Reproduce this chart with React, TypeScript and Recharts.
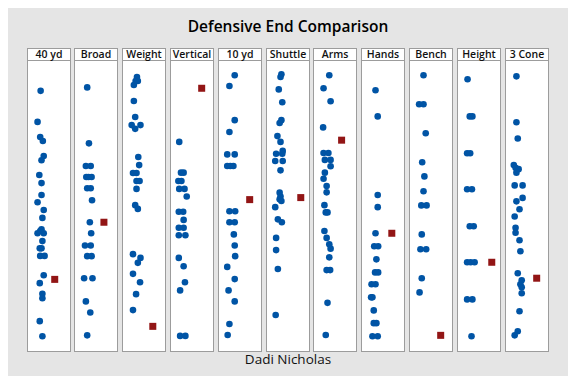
import { ScatterChart, Scatter, XAxis, YAxis } from "recharts";

// each point: [horizontal jitter (% of panel width), relative score 0-100]
const drills = ["40 yd", "Broad", "Weight", "Vertical", "10 yd", "Shuttle", "Arms", "Hands", "Bench", "Height", "3 Cone"];

const fortyYd = [
  [31, 89.7], [24, 79.0], [30, 73.8], [36, 72.4], [38, 67.2], [33, 65.8], [28, 60.7], [33, 57.9], [33, 53.8],
  [24, 51.3], [38, 48.6], [35, 45.9], [33, 42.0], [24, 40.6], [38, 40.6], [30, 41.4], [35, 37.9], [33, 35.4],
  [29, 35.4], [30, 32.8], [40, 32.8], [38, 26.1], [29, 23.4], [35, 19.7], [35, 18.2], [29, 10.3], [35, 5.1],
];
const broad = [
  [30, 90.9], [34, 71.6], [27, 63.8], [38, 63.8], [28, 60.0], [40, 60.0], [33, 60.0], [30, 56.1], [38, 56.1],
  [41, 52.0], [36, 44.4], [39, 40.6], [25, 36.4], [38, 36.4], [30, 32.7], [40, 32.7], [23, 25.1], [42, 25.1],
  [27, 17.1], [37, 13.3], [30, 5.4],
];
const weight = [
  [34, 94.5], [31, 93.1], [36, 93.1], [27, 91.7], [27, 86.2], [30, 80.7], [22, 77.9], [42, 77.9], [30, 76.6],
  [37, 66.9], [39, 64.1], [25, 61.4], [33, 61.4], [33, 58.6], [40, 58.6], [33, 55.9], [30, 50.3], [36, 49.0],
  [25, 33.4], [42, 32.1], [36, 30.4], [25, 26.6], [41, 23.7], [32, 19.6], [25, 14.1],
];
const vertical = [
  [21, 72.1], [25, 61.5], [31, 61.5], [19, 58.6], [26, 58.6], [21, 55.9], [33, 55.9], [38, 53.3], [20, 48.0],
  [30, 48.0], [31, 45.2], [20, 42.5], [31, 42.5], [20, 39.9], [35, 39.9], [20, 32.1], [31, 29.2], [34, 23.7],
  [23, 20.9], [23, 5.2], [35, 5.2],
];
const tenYd = [
  [38, 95.1], [26, 91.4], [38, 79.6], [26, 75.5], [21, 67.8], [38, 67.8], [21, 63.8], [28, 63.8], [35, 63.8],
  [26, 48.2], [39, 48.2], [26, 44.4], [38, 44.4], [36, 40.2], [38, 36.4], [39, 32.7], [21, 29.0], [38, 24.8],
  [24, 20.9], [38, 17.1], [26, 9.3], [22, 5.5],
];
const shuttle = [
  [35, 95.4], [33, 94.5], [29, 90.2], [37, 85.8], [35, 79.6], [31, 78.6], [26, 74.1], [33, 72.1], [38, 69.0],
  [23, 68.0], [37, 68.0], [21, 65.5], [38, 65.5], [33, 62.3], [31, 54.6], [33, 53.3], [31, 52.3], [35, 51.7],
  [21, 49.6], [27, 45.4], [36, 44.4], [23, 39.0], [23, 34.8], [27, 28.3], [22, 12.4],
];
const arms = [
  [37, 95.1], [24, 90.6], [40, 86.1], [23, 77.1], [24, 68.3], [35, 68.3], [27, 65.9], [40, 65.9], [40, 63.7],
  [27, 61.5], [24, 59.4], [31, 56.9], [31, 54.7], [26, 50.3], [29, 47.8], [33, 47.8], [26, 41.4], [31, 39.0],
  [37, 36.8], [40, 35.3], [37, 32.3], [31, 27.9], [39, 27.9], [33, 16.6], [29, 5.5],
];
const hands = [
  [33, 89.9], [38, 80.9], [38, 53.8], [38, 49.6], [33, 40.6], [30, 36.1], [39, 36.1], [35, 31.6], [32, 27.1],
  [39, 27.1], [24, 23.0], [33, 23.0], [23, 18.5], [26, 18.5], [29, 14.0], [29, 9.6], [35, 9.6], [26, 5.1],
  [38, 5.1],
];
const bench = [
  [33, 95.1], [23, 85.1], [33, 85.1], [38, 75.1], [30, 65.1], [35, 60.2], [33, 55.1], [28, 50.2], [40, 50.2],
  [29, 40.2], [26, 35.1], [39, 35.1], [29, 25.1], [24, 20.2],
];
const height = [
  [24, 93.7], [29, 80.9], [35, 80.9], [23, 68.2], [30, 68.2], [23, 55.8], [34, 55.8], [29, 43.0], [38, 43.0],
  [23, 30.6], [31, 30.6], [40, 30.6], [23, 17.8], [35, 17.8], [33, 5.1],
];
const threeCone = [
  [26, 94.7], [26, 78.9], [29, 73.3], [20, 64.1], [24, 63.2], [31, 62.7], [26, 61.5], [22, 57.1], [40, 57.1],
  [40, 52.8], [26, 51.6], [33, 48.9], [22, 46.4], [24, 42.5], [24, 40.8], [33, 38.2], [35, 34.4], [29, 26.8],
  [38, 24.4], [35, 23.0], [38, 22.0], [38, 19.9], [33, 13.7], [29, 6.8], [22, 5.4],
];
const nicholas = [
  [63, 24.7], [68, 44.4], [70, 8.5], [72, 90.6], [72, 52.2], [79, 52.9], [65, 72.7], [70, 40.6], [72, 5.4],
  [79, 30.6], [72, 25.1],
];

const field = [fortyYd, broad, weight, vertical, tenYd, shuttle, arms, hands, bench, height, threeCone];

const BLUE = "#0054a5";
const RED = "#921515";
const FONT = "'Open Sans', 'Noto Sans', sans-serif";

const dot = (p: any) => <circle cx={p.cx} cy={p.cy} r={3.3} fill={BLUE} />;
const square = (p: any) => <rect x={p.cx - 3.5} y={p.cy - 3.5} width={7} height={7} fill={RED} />;

function Panel({ label, pts, me, left }: { label: string; pts: number[][]; me: number[]; left: number }) {
  const others = pts.map(([x, v]) => ({ x, v }));
  const player = [{ x: me[0], v: me[1] }];
  return (
    <div
      style={{
        position: "absolute",
        left,
        top: 47,
        width: 44,
        height: 304,
        boxSizing: "border-box",
        border: "1px solid #9c9c9c",
        background: "#fff",
      }}
    >
      <div
        style={{
          height: 11,
          borderBottom: "1px solid #9c9c9c",
          fontFamily: FONT,
          fontWeight: 600,
          fontSize: 10.5,
          lineHeight: "11px",
          textAlign: "center",
          color: "#111",
          whiteSpace: "nowrap",
        }}
      >
        {label}
      </div>
      <ScatterChart width={42} height={290} margin={{ top: 0, right: 0, bottom: 0, left: 0 }}>
        <XAxis type="number" dataKey="x" domain={[2.3, 97.7]} hide />
        <YAxis type="number" dataKey="v" domain={[0, 100]} hide />
        <Scatter data={others} shape={dot} isAnimationActive={false} />
        <Scatter data={player} shape={square} isAnimationActive={false} />
      </ScatterChart>
    </div>
  );
}

export default function App() {
  return (
    <div
      style={{
        position: "relative",
        margin: -8,
        width: 576,
        height: 384,
        boxSizing: "border-box",
        border: "1px solid #cdcdcd",
        background: "#e5e5e5",
        overflow: "hidden",
      }}
    >
      <div
        style={{
          position: "absolute",
          left: 0,
          width: 574,
          top: 14,
          textAlign: "center",
          fontFamily: FONT,
          fontWeight: 600,
          fontSize: 15.5,
          color: "#000",
        }}
      >
        Defensive End Comparison
      </div>
      {drills.map((d, i) => (
        <Panel key={d} label={d} pts={field[i]} me={nicholas[i]} left={Math.round(26.5 + i * 47.8) - 1} />
      ))}
      <div
        style={{
          position: "absolute",
          left: 0,
          width: 574,
          top: 349,
          textAlign: "center",
          fontFamily: FONT,
          fontWeight: 400,
          fontSize: 13.5,
          color: "#111",
        }}
      >
        Dadi Nicholas
      </div>
    </div>
  );
}
